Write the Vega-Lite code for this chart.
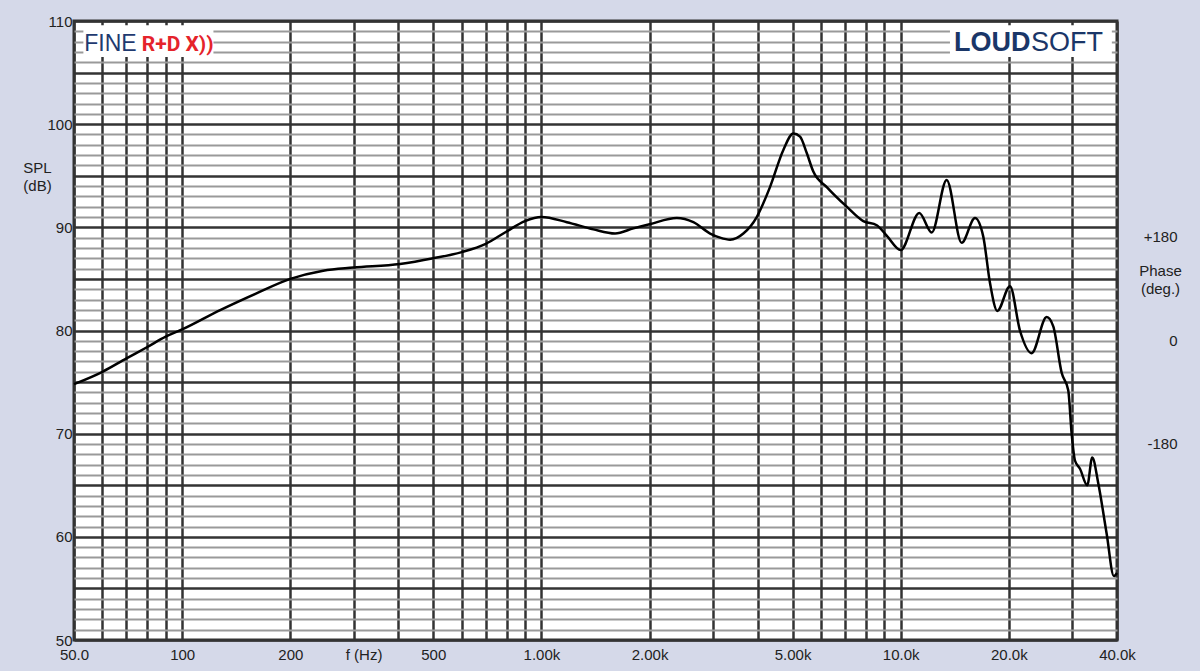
{
  "$schema": "https://vega.github.io/schema/vega-lite/v6.json",
  "width": 1043,
  "height": 619,
  "autosize": {"type": "none"},
  "padding": {"left": 74, "top": 21, "right": 83, "bottom": 31},
  "background": "#d5d9e9",
  "config": {
    "font": "Liberation Sans",
    "view": {"fill": "white", "stroke": "#333333", "strokeWidth": 3},
    "axis": {"labelColor": "#222222", "labelFontSize": 15, "titleColor": "#222222", "titleFontSize": 15, "titleFontWeight": "normal", "labelFont": "Liberation Sans", "titleFont": "Liberation Sans"}
  },
  "datasets": {
    "spl": [
      {"f": 50, "db": 74.8}, {"f": 60, "db": 76.0}, {"f": 70, "db": 77.3}, {"f": 80, "db": 78.4},
      {"f": 90, "db": 79.4}, {"f": 100, "db": 80.1}, {"f": 128, "db": 82.0}, {"f": 161, "db": 83.6},
      {"f": 200, "db": 85.0}, {"f": 247, "db": 85.8}, {"f": 300, "db": 86.1}, {"f": 404, "db": 86.45},
      {"f": 500, "db": 87.0}, {"f": 600, "db": 87.6}, {"f": 700, "db": 88.4}, {"f": 800, "db": 89.6},
      {"f": 900, "db": 90.6}, {"f": 1000, "db": 91.0}, {"f": 1177, "db": 90.5}, {"f": 1395, "db": 89.8},
      {"f": 1603, "db": 89.4}, {"f": 1803, "db": 89.9}, {"f": 2000, "db": 90.3}, {"f": 2381, "db": 90.9},
      {"f": 2648, "db": 90.5}, {"f": 2948, "db": 89.4}, {"f": 3143, "db": 89.0}, {"f": 3351, "db": 88.8},
      {"f": 3648, "db": 89.4}, {"f": 3975, "db": 91.0}, {"f": 4327, "db": 93.9}, {"f": 4714, "db": 97.5},
      {"f": 5026, "db": 99.1}, {"f": 5246, "db": 98.8}, {"f": 5477, "db": 97.2}, {"f": 5712, "db": 95.4},
      {"f": 6227, "db": 93.9}, {"f": 7075, "db": 92.0}, {"f": 7870, "db": 90.6}, {"f": 8578, "db": 90.2},
      {"f": 9141, "db": 89.2}, {"f": 10000, "db": 87.8}, {"f": 11266, "db": 91.4}, {"f": 12201, "db": 89.5},
      {"f": 13428, "db": 94.6}, {"f": 14780, "db": 88.5}, {"f": 16098, "db": 90.9}, {"f": 16976, "db": 89.1},
      {"f": 17724, "db": 84.6}, {"f": 18574, "db": 81.9}, {"f": 20145, "db": 84.3}, {"f": 21472, "db": 80.0},
      {"f": 23140, "db": 77.8}, {"f": 25486, "db": 81.3}, {"f": 26588, "db": 80.4}, {"f": 28054, "db": 75.9},
      {"f": 29264, "db": 74.2}, {"f": 29910, "db": 70.0}, {"f": 30549, "db": 67.4}, {"f": 31549, "db": 66.6},
      {"f": 33059, "db": 65.0}, {"f": 34135, "db": 67.7}, {"f": 35471, "db": 65.2}, {"f": 37436, "db": 60.3},
      {"f": 39200, "db": 56.2}, {"f": 40000, "db": 56.5}
    ],
    "one": [{}]
  },
  "layer": [
    {
      "layer": [
        {
          "data": {"name": "spl"},
          "mark": {"type": "line", "color": "black", "strokeWidth": 2.5, "interpolate": "monotone"},
          "encoding": {
            "x": {
              "field": "f", "type": "quantitative",
              "scale": {"type": "log", "domain": [50, 40000], "nice": false},
              "axis": {
                "title": null,
                "tickCount": 500,
                "values": [50, 60, 70, 80, 90, 100, 200, 300, 400, 500, 600, 700, 800, 900, 1000, 2000, 3000, 4000, 5000, 6000, 7000, 8000, 9000, 10000, 20000, 30000, 40000],
                "labelExpr": "datum.value == 50 ? '50.0' : datum.value == 100 ? '100' : datum.value == 200 ? '200' : datum.value == 300 ? 'f (Hz)' : datum.value == 500 ? '500' : datum.value == 1000 ? '1.00k' : datum.value == 2000 ? '2.00k' : datum.value == 5000 ? '5.00k' : datum.value == 10000 ? '10.0k' : datum.value == 20000 ? '20.0k' : datum.value == 40000 ? '40.0k' : ''",
                "grid": true, "gridColor": "#333333", "gridWidth": 2.5,
                "ticks": false, "tickSize": 0, "domain": false,
                "labelPadding": 7, "labelOverlap": false, "labelFlush": false, "labelBound": false,
                "labelOffset": {"condition": {"test": "datum.value == 300", "value": 10}, "value": 0}
              }
            },
            "y": {
              "field": "db", "type": "quantitative",
              "scale": {"domain": [50, 110], "nice": false, "zero": false},
              "axis": {
                "title": ["SPL", "(dB)"],
                "titleAngle": 0, "titleAlign": "center", "titleBaseline": "top",
                "titleX": -37, "titleY": 139, "titleLineHeight": 18,
                "tickCount": 500,
                "format": "d",
                "values": [50,51,52,53,54,55,56,57,58,59,60,61,62,63,64,65,66,67,68,69,70,71,72,73,74,75,76,77,78,79,80,81,82,83,84,85,86,87,88,89,90,91,92,93,94,95,96,97,98,99,100,101,102,103,104,105,106,107,108,109,110],
                "labelExpr": "datum.value % 10 === 0 ? datum.label : ''",
                "grid": true,
                "gridColor": {"condition": {"test": "datum.value % 5 === 0", "value": "#333333"}, "value": "#9a9a9a"},
                "gridWidth": {"condition": {"test": "datum.value % 5 === 0", "value": 2.5}, "value": 1.8},
                "ticks": false, "tickSize": 0, "domain": false,
                "labelPadding": 2, "labelOverlap": false, "labelBound": false
              }
            }
          }
        },
        {
          "data": {"name": "one"},
          "mark": {"type": "rect", "fill": "white"},
          "encoding": {
            "x": {"datum": 53.1}, "x2": {"datum": 122.2},
            "y": {"datum": 106.5}, "y2": {"datum": 109.6}
          }
        },
        {
          "data": {"name": "one"},
          "mark": {"type": "rect", "fill": "white"},
          "encoding": {
            "x": {"datum": 13713}, "x2": {"datum": 38700},
            "y": {"datum": 106.5}, "y2": {"datum": 109.6}
          }
        },
        {
          "data": {"name": "one"},
          "mark": {"type": "text", "text": "FINE", "align": "left", "baseline": "alphabetic", "fontSize": 23, "color": "#1f3a70", "font": "Liberation Sans"},
          "encoding": {"x": {"datum": 53.4}, "y": {"datum": 107.1}}
        },
        {
          "data": {"name": "one"},
          "mark": {"type": "text", "text": "R+D X))", "align": "left", "baseline": "alphabetic", "fontSize": 21, "fontWeight": "bold", "color": "#e5232b", "font": "Roboto"},
          "encoding": {"x": {"datum": 77.2}, "y": {"datum": 107.1}}
        },
        {
          "data": {"name": "one"},
          "mark": {"type": "text", "text": "LOUD", "align": "left", "baseline": "alphabetic", "fontSize": 27, "fontWeight": "bold", "color": "#1a3668", "font": "Liberation Sans"},
          "encoding": {"x": {"datum": 14070}, "y": {"datum": 107.05}}
        },
        {
          "data": {"name": "one"},
          "mark": {"type": "text", "text": "SOFT", "align": "left", "baseline": "alphabetic", "fontSize": 27, "color": "#1a3668", "font": "Liberation Sans"},
          "encoding": {"x": {"datum": 23050}, "y": {"datum": 107.05}}
        }
      ]
    },
    {
      "data": {"name": "one"},
      "mark": {"type": "rule", "strokeOpacity": 0},
      "encoding": {
        "y": {
          "datum": 0, "type": "quantitative",
          "scale": {"domain": [-540, 540], "nice": false, "zero": false},
          "axis": {
            "orient": "right",
            "title": ["Phase", "(deg.)"],
            "titleAngle": 0, "titleAlign": "center", "titleBaseline": "top",
            "titleX": 43, "titleY": 242, "titleLineHeight": 18,
            "values": [-180, 0, 180],
            "labelExpr": "datum.value > 0 ? '+180' : datum.value < 0 ? '-180' : '0'",
            "labelAlign": "right", "labelPadding": 60, "labelOffset": 9.5,
            "ticks": false, "tickSize": 0, "domain": false, "grid": false,
            "labelOverlap": false, "labelBound": false
          }
        }
      }
    }
  ],
  "resolve": {"scale": {"y": "independent"}}
}
